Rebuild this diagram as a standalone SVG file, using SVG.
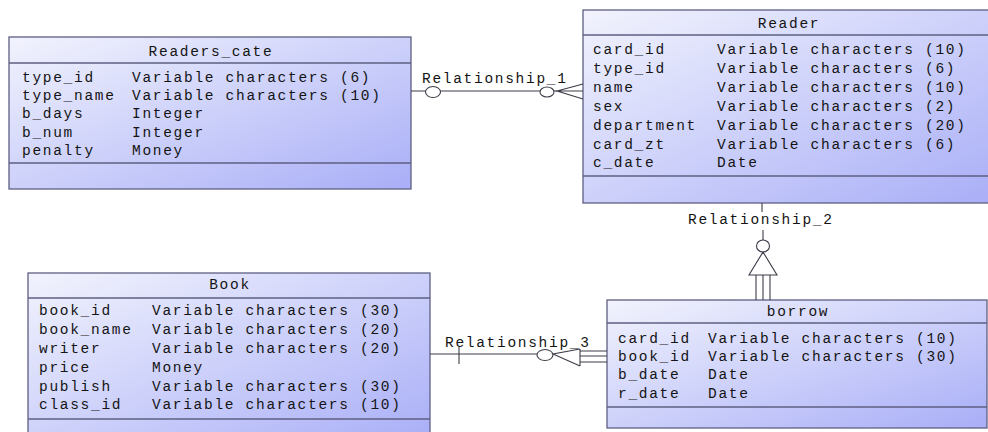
<svg xmlns="http://www.w3.org/2000/svg" width="988" height="432" viewBox="0 0 988 432">
<defs>
<linearGradient id="g" x1="0" y1="0" x2="1" y2="1">
<stop offset="0" stop-color="#f2f3fd"/>
<stop offset="0.5" stop-color="#cdd1fa"/>
<stop offset="1" stop-color="#a9aef7"/>
</linearGradient>
<style>
.box{fill:url(#g);stroke:#5e5f82;stroke-width:1.3}
.sep{stroke:#5e5f82;stroke-width:1.3;fill:none}
text{font-family:"Liberation Mono","DejaVu Sans Mono",monospace;font-size:14.5px;letter-spacing:1.7px;fill:#141414}
.t{text-anchor:middle}
.c line,.c path{stroke:#3c3c48;stroke-width:1.1;fill:none}
.c ellipse{stroke:#3c3c48;stroke-width:1.1;fill:#ffffff}
</style>
</defs>
<rect width="988" height="432" fill="#ffffff"/>

<g id="readers_cate">
<rect class="box" x="9" y="37" width="402" height="152"/>
<line class="sep" x1="9" y1="63" x2="411" y2="63"/>
<line class="sep" x1="9" y1="163" x2="411" y2="163"/>
<text class="t" x="211" y="56">Readers_cate</text>
<text x="22" y="82">type_id</text><text x="132" y="82">Variable characters (6)</text>
<text x="22" y="100">type_name</text><text x="132" y="100">Variable characters (10)</text>
<text x="22" y="118">b_days</text><text x="132" y="118">Integer</text>
<text x="22" y="137">b_num</text><text x="132" y="137">Integer</text>
<text x="22" y="155">penalty</text><text x="132" y="155">Money</text>
</g>

<g id="reader">
<rect class="box" x="583" y="10" width="411" height="193"/>
<line class="sep" x1="583" y1="35" x2="994" y2="35"/>
<line class="sep" x1="583" y1="176" x2="994" y2="176"/>
<text class="t" x="789" y="28">Reader</text>
<text x="593" y="54">card_id</text><text x="717" y="54">Variable characters (10)</text>
<text x="593" y="73">type_id</text><text x="717" y="73">Variable characters (6)</text>
<text x="593" y="92">name</text><text x="717" y="92">Variable characters (10)</text>
<text x="593" y="111">sex</text><text x="717" y="111">Variable characters (2)</text>
<text x="593" y="130">department</text><text x="717" y="130">Variable characters (20)</text>
<text x="593" y="149">card_zt</text><text x="717" y="149">Variable characters (6)</text>
<text x="593" y="167">c_date</text><text x="717" y="167">Date</text>
</g>

<g id="book">
<rect class="box" x="28" y="273" width="402" height="170"/>
<line class="sep" x1="28" y1="298" x2="430" y2="298"/>
<line class="sep" x1="28" y1="419" x2="430" y2="419"/>
<text class="t" x="230" y="289">Book</text>
<text x="39" y="315">book_id</text><text x="152" y="315">Variable characters (30)</text>
<text x="39" y="334">book_name</text><text x="152" y="334">Variable characters (20)</text>
<text x="39" y="353">writer</text><text x="152" y="353">Variable characters (20)</text>
<text x="39" y="372">price</text><text x="152" y="372">Money</text>
<text x="39" y="391">publish</text><text x="152" y="391">Variable characters (30)</text>
<text x="39" y="409">class_id</text><text x="152" y="409">Variable characters (10)</text>
</g>

<g id="borrow">
<rect class="box" x="607" y="300" width="380" height="128"/>
<line class="sep" x1="607" y1="323" x2="987" y2="323"/>
<line class="sep" x1="607" y1="407" x2="987" y2="407"/>
<text class="t" x="798" y="316">borrow</text>
<text x="618" y="343">card_id</text><text x="708" y="343">Variable characters (10)</text>
<text x="618" y="361">book_id</text><text x="708" y="361">Variable characters (30)</text>
<text x="618" y="379">b_date</text><text x="708" y="379">Date</text>
<text x="618" y="398">r_date</text><text x="708" y="398">Date</text>
</g>

<g id="connectors" class="c">
<g id="relationship_1">
<line x1="411" y1="91" x2="557" y2="91"/>
<ellipse cx="433" cy="92" rx="7.5" ry="5.5"/>
<ellipse cx="547" cy="92" rx="7" ry="5"/>
<path d="M583 84 L557 91 L583 99 M557 91 L583 91"/>
<text x="422" y="83">Relationship_1</text>
</g>
<g id="relationship_2">
<line x1="762" y1="203" x2="762" y2="212"/>
<line x1="763" y1="230" x2="763" y2="240"/>
<ellipse cx="763" cy="246" rx="6.5" ry="6"/>
<path d="M763 252 L749 275 L777 275 Z"/>
<path d="M756 275 V300 M763 275 V300 M770 275 V300"/>
<text x="688" y="224">Relationship_2</text>
</g>
<g id="relationship_3">
<line x1="430" y1="354" x2="553" y2="354"/>
<line x1="459" y1="347" x2="459" y2="364"/>
<ellipse cx="545" cy="355" rx="8" ry="5.5"/>
<path d="M580 349 L553 354 L580 366 M580 349 V366"/>
<path d="M580 351 H607 M580 356 H607 M580 362 H607"/>
<text x="445" y="347">Relationship_3</text>
</g>
</g>
</svg>
